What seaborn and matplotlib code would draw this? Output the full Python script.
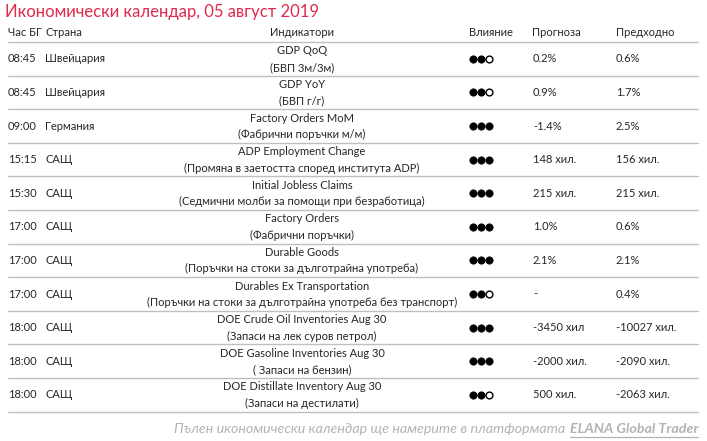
import matplotlib
matplotlib.use("Agg")
import matplotlib.pyplot as plt
import seaborn as sns
import pandas as pd

# table data
times = ["08:45", "08:45", "09:00", "15:15", "15:30", "17:00",
         "17:00", "17:00", "18:00", "18:00", "18:00"]
countries = ["Швейцария", "Швейцария", "Германия", "САЩ", "САЩ", "САЩ",
             "САЩ", "САЩ", "САЩ", "САЩ", "САЩ"]
indicators = ["GDP QoQ", "GDP YoY", "Factory Orders MoM", "ADP Employment Change",
              "Initial Jobless Claims", "Factory Orders", "Durable Goods",
              "Durables Ex Transportation", "DOE Crude Oil Inventories Aug 30",
              "DOE Gasoline Inventories Aug 30", "DOE Distillate Inventory Aug 30"]
indicators_bg = ["(БВП 3м/3м)", "(БВП г/г)", "(Фабрични поръчки м/м)",
                 "(Промяна в заетостта според института ADP)",
                 "(Седмични молби за помощи при безработица)",
                 "(Фабрични поръчки)",
                 "(Поръчки на стоки за дълготрайна употреба)",
                 "(Поръчки на стоки за дълготрайна употреба без транспорт)",
                 "(Запаси на лек суров петрол)", "( Запаси на бензин)",
                 "(Запаси на дестилати)"]
impact = [2, 2, 3, 3, 3, 3, 3, 2, 3, 3, 2]
forecast = ["0.2%", "0.9%", "-1.4%", "148 хил.", "215 хил.", "1.0%", "2.1%",
            "-", "-3450 хил", "-2000 хил.", "500 хил."]
previous = ["0.6%", "1.7%", "2.5%", "156 хил.", "215 хил.", "0.6%", "2.1%",
            "0.4%", "-10027 хил.", "-2090 хил.", "-2063 хил."]
headers = ["Час БГ", "Страна", "Индикатори", "Влияние", "Прогноза", "Предходно"]

sns.set_theme(style="white")
plt.rcParams["font.family"] = ["Lato", "DejaVu Sans"]

W, H = 707, 441
fig = plt.figure(figsize=(W / 100, H / 100), dpi=100)
ax = fig.add_axes([0, 0, 1, 1])

fs = 8.0
txt = "#262626"
top, rh = 42, 33.6

ax.text(5, 12, "Икономически календар, 05 август 2019", color="#e0294b",
        fontsize=12.0, va="center", ha="left")

hy = 32
ax.text(8, hy, headers[0], fontsize=fs, va="center", color=txt)
ax.text(45, hy, headers[1], fontsize=fs, va="center", color=txt)
ax.text(302, hy, headers[2], fontsize=fs, va="center", ha="center", color=txt)
ax.text(469, hy, headers[3], fontsize=fs, va="center", color=txt)
ax.text(532, hy, headers[4], fontsize=fs, va="center", color=txt)
ax.text(616, hy, headers[5], fontsize=fs, va="center", color=txt)

for i in range(len(times) + 1):
    y = top + i * rh
    ax.plot([8, 698], [y, y], color="#bfbfbf", lw=1.0)

dots = []
for i in range(len(times)):
    yc = top + i * rh + rh / 2
    ax.text(8, yc, times[i], fontsize=fs, va="center", color=txt)
    ax.text(45, yc, countries[i], fontsize=fs, va="center", color=txt)
    ax.text(302, yc - 8, indicators[i], fontsize=fs, va="center", ha="center", color=txt)
    ax.text(302, yc + 8.5, indicators_bg[i], fontsize=fs, va="center", ha="center", color=txt)
    ax.text(533, yc, forecast[i], fontsize=fs, va="center", color=txt)
    ax.text(616, yc, previous[i], fontsize=fs, va="center", color=txt)
    for k in range(3):
        dots.append({"x": 473 + k * 8, "y": yc, "on": k < impact[i]})

dots = pd.DataFrame(dots)
sns.scatterplot(data=dots[dots["on"]], x="x", y="y", ax=ax, s=28,
                color="black", edgecolor="black", linewidth=0.5, legend=False)
sns.scatterplot(data=dots[~dots["on"]], x="x", y="y", ax=ax, s=24,
                color="white", edgecolor="black", linewidth=1.0, legend=False)
ax.set_xlim(0, W)
ax.set_ylim(H, 0)
ax.axis("off")

# footer
fy = 429
ffs = 10.3
gray = "#b3b3b3"
t2 = ax.text(698, fy, "ELANA Global Trader", fontsize=ffs, style="italic",
             fontweight="bold", color=gray, va="center", ha="right")
fig.canvas.draw()
bb = t2.get_window_extent().transformed(ax.transData.inverted())
x0, x1 = min(bb.x0, bb.x1), max(bb.x0, bb.x1)
ax.text(x0 - 4, fy, "Пълен икономически календар ще намерите в платформата",
        fontsize=ffs, style="italic", color=gray, va="center", ha="right")
ax.plot([x0, x1], [fy + 8, fy + 8], color=gray, lw=0.9)

fig.savefig("out.png", dpi=100)
